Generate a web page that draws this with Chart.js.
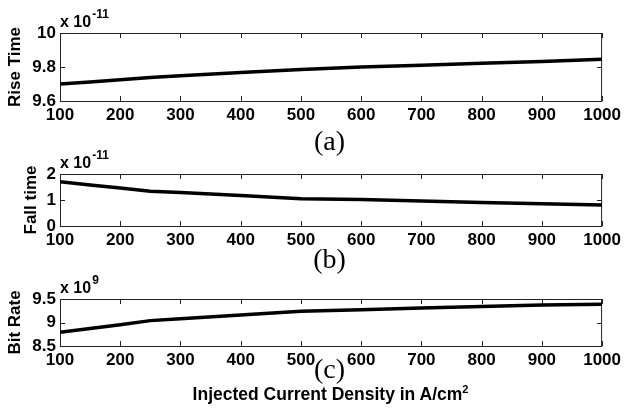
<!DOCTYPE html>
<html>
<head>
<meta charset="utf-8">
<script src="https://cdn.jsdelivr.net/npm/chart.js@4"></script>
<style>
body{margin:0;background:#fff;}
#wrap{position:relative;width:625px;height:420px;overflow:hidden;}
canvas{position:absolute;left:0;}
.lab{position:absolute;left:0;width:625px;text-align:center;font-family:"Liberation Serif",serif;font-size:28px;line-height:28px;color:#000;}
#xlab{position:absolute;left:18px;width:625px;text-align:center;top:384px;font-family:"Liberation Sans",Arial,sans-serif;font-weight:bold;font-size:17.5px;color:#000;}
#xlab sup{font-size:11px;vertical-align:7px;line-height:0;}
</style>
</head>
<body>
<div id="wrap">
<canvas id="c1" width="625" height="125" style="top:0px"></canvas>
<canvas id="c2" width="625" height="110" style="top:140px"></canvas>
<canvas id="c3" width="625" height="105" style="top:265px"></canvas>
<div class="lab" style="left:17px;top:127px">(a)</div>
<div class="lab" style="left:17px;top:245px">(b)</div>
<div class="lab" style="left:17px;top:355px">(c)</div>
<div id="xlab">Injected Current Density in A/cm<sup>2</sup></div>
</div>
<script>
// injected current density (A/cm^2)
const density = [100,150,200,250,300,400,500,600,700,800,900,1000]
// rise time, x 1e-11 s
const riseTime = [9.70,9.712,9.725,9.738,9.748,9.768,9.785,9.80,9.81,9.822,9.833,9.845]
// fall time, x 1e-11 s
const fallTime = [1.70,1.58,1.46,1.34,1.29,1.17,1.05,1.02,0.96,0.90,0.86,0.81]
// bit rate, x 1e9
const bitRate = [8.79,8.87,8.95,9.04,9.08,9.16,9.24,9.27,9.31,9.34,9.37,9.39]

const xTicks = [100,200,300,400,500,600,700,800,900,1000]

const sans = "'Liberation Sans', Arial, sans-serif"

/* frame, inward ticks, exponent and y title, MATLAB style */
const matlabBox = {
id:"matlabBox",
beforeDatasetsDraw(chart,args,opts){
const a = chart.chartArea
const c = chart.ctx
c.save()
c.strokeStyle = "#222"
c.lineWidth = 1
c.strokeRect(a.left+0.5,a.top+0.5,a.right-a.left-1,a.bottom-a.top)
c.beginPath()
chart.scales.x.ticks.forEach(t=>{
const x = Math.round(chart.scales.x.getPixelForValue(t.value))+0.5
c.moveTo(x,a.bottom); c.lineTo(x,a.bottom-5)
c.moveTo(x,a.top); c.lineTo(x,a.top+5)
})
chart.scales.y.ticks.forEach(t=>{
const y = Math.round(chart.scales.y.getPixelForValue(t.value))+0.5
c.moveTo(a.left,y); c.lineTo(a.left+5,y)
c.moveTo(a.right,y); c.lineTo(a.right-5,y)
})
c.stroke()
c.restore()
},
afterDraw(chart,args,opts){
const a = chart.chartArea
const c = chart.ctx
c.save()
c.fillStyle = "#000"
c.textBaseline = "alphabetic"
c.font = "bold 16px " + sans
c.fillText("x 10",a.left,a.top-6)
const w = c.measureText("x 10").width
c.font = "bold 12px " + sans
c.fillText(opts.exp,a.left+w+1,a.top-15)
c.translate(opts.titleX,(a.top+a.bottom)/2)
c.rotate(-Math.PI/2)
c.font = "bold 17px " + sans
c.textAlign = "center"
c.textBaseline = "middle"
c.fillText(opts.title,0,0)
c.restore()
}
}

function makeChart(id,values,yMin,yMax,step,exp,title,titleX,padTop,xHeight){
return new Chart(document.getElementById(id),{
type:"line",
data:{
labels:density,
datasets:[{
data:values,
borderColor:"#000",
borderWidth:3.5,
pointRadius:0,
tension:0,
fill:false
}]
},
options:{
responsive:false,
animation:false,
devicePixelRatio:1,
layout:{padding:{top:padTop,right:20,left:0,bottom:0}},
plugins:{
legend:{display:false},
tooltip:{enabled:false},
matlabBox:{exp:exp,title:title,titleX:titleX}
},
scales:{
x:{
type:"linear",
min:100,
max:1000,
afterBuildTicks(s){ s.ticks = xTicks.map(v=>({value:v})) },
afterFit(s){ s.height = xHeight },
grid:{display:false,drawTicks:false},
border:{display:false},
ticks:{autoSkip:false,maxRotation:0,padding:4,color:"#000",font:{family:sans,size:17,weight:"bold"},callback:v=>String(v)}
},
y:{
min:yMin,
max:yMax,
afterFit(s){ s.width = 60 },
grid:{display:false,drawTicks:false},
border:{display:false},
ticks:{stepSize:step,padding:4,color:"#000",font:{family:sans,size:17,weight:"bold"},callback:v=>String(+v.toFixed(2))}
}
}
},
plugins:[matlabBox]
})
}

makeChart("c1",riseTime,9.6,10,0.2,"-11","Rise Time",15,33,24)
makeChart("c2",fallTime,0,2,1,"-11","Fall time",31,34,24)
makeChart("c3",bitRate,8.5,9.5,0.5,"9","Bit Rate",15,34,24)
</script>
</body>
</html>
